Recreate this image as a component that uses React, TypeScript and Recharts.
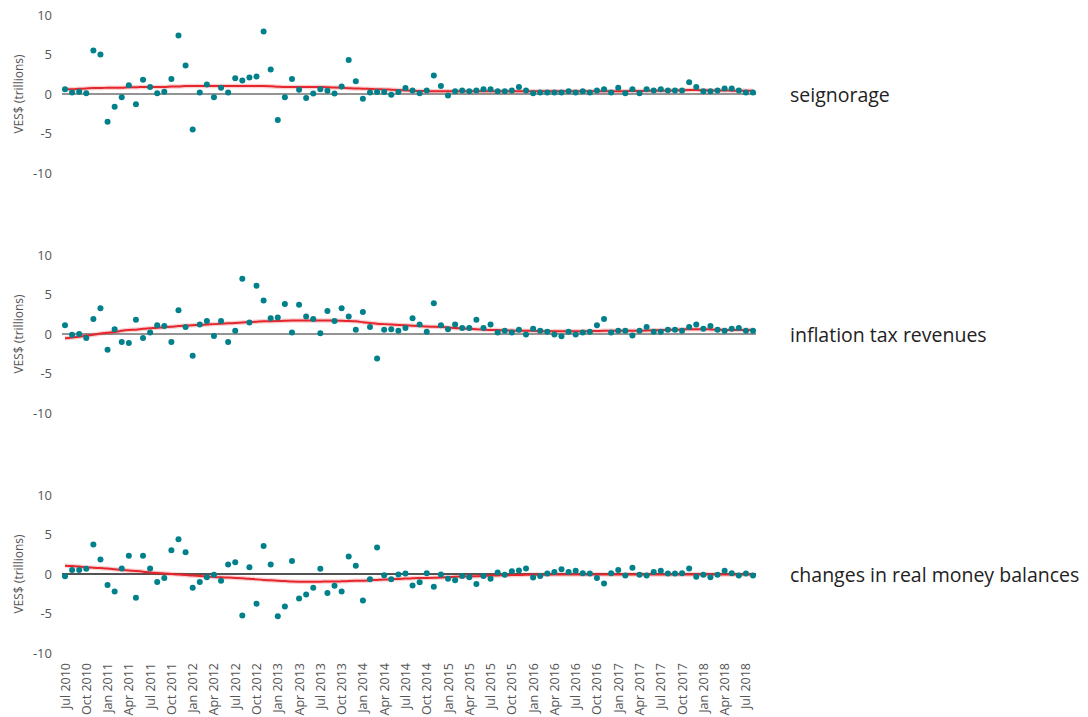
import React from "react";
import { LineChart, Line, XAxis, YAxis, ReferenceLine } from "recharts";

const months = [
  "Jul 2010","Aug 2010","Sep 2010","Oct 2010","Nov 2010","Dec 2010",
  "Jan 2011","Feb 2011","Mar 2011","Apr 2011","May 2011","Jun 2011","Jul 2011","Aug 2011","Sep 2011","Oct 2011","Nov 2011","Dec 2011",
  "Jan 2012","Feb 2012","Mar 2012","Apr 2012","May 2012","Jun 2012","Jul 2012","Aug 2012","Sep 2012","Oct 2012","Nov 2012","Dec 2012",
  "Jan 2013","Feb 2013","Mar 2013","Apr 2013","May 2013","Jun 2013","Jul 2013","Aug 2013","Sep 2013","Oct 2013","Nov 2013","Dec 2013",
  "Jan 2014","Feb 2014","Mar 2014","Apr 2014","May 2014","Jun 2014","Jul 2014","Aug 2014","Sep 2014","Oct 2014","Nov 2014","Dec 2014",
  "Jan 2015","Feb 2015","Mar 2015","Apr 2015","May 2015","Jun 2015","Jul 2015","Aug 2015","Sep 2015","Oct 2015","Nov 2015","Dec 2015",
  "Jan 2016","Feb 2016","Mar 2016","Apr 2016","May 2016","Jun 2016","Jul 2016","Aug 2016","Sep 2016","Oct 2016","Nov 2016","Dec 2016",
  "Jan 2017","Feb 2017","Mar 2017","Apr 2017","May 2017","Jun 2017","Jul 2017","Aug 2017","Sep 2017","Oct 2017","Nov 2017","Dec 2017",
  "Jan 2018","Feb 2018","Mar 2018","Apr 2018","May 2018","Jun 2018","Jul 2018","Aug 2018",
];

const tickLabels = [
  "Jul 2010","Oct 2010","Jan 2011","Apr 2011","Jul 2011","Oct 2011","Jan 2012","Apr 2012","Jul 2012","Oct 2012",
  "Jan 2013","Apr 2013","Jul 2013","Oct 2013","Jan 2014","Apr 2014","Jul 2014","Oct 2014","Jan 2015","Apr 2015",
  "Jul 2015","Oct 2015","Jan 2016","Apr 2016","Jul 2016","Oct 2016","Jan 2017","Apr 2017","Jul 2017","Oct 2017",
  "Jan 2018","Apr 2018","Jul 2018",
];

const yTicks = [-10, -5, 0, 5, 10];

const seignorage = [
  0.6, 0.2, 0.3, 0.1, 5.5, 5.0, -3.5, -1.6, -0.4, 1.1,
  -1.3, 1.8, 0.9, 0.1, 0.3, 1.9, 7.4, 3.6, -4.5, 0.2,
  1.2, -0.4, 0.8, 0.2, 2.0, 1.7, 2.1, 2.2, 7.9, 3.1,
  -3.3, -0.4, 1.9, 0.55, -0.5, 0.05, 0.6, 0.4, 0.05, 0.95,
  4.3, 1.6, -0.6, 0.2, 0.25, 0.25, -0.1, 0.25, 0.75, 0.45,
  0.1, 0.45, 2.35, 1.0, -0.2, 0.35, 0.45, 0.35, 0.45, 0.6,
  0.6, 0.35, 0.35, 0.45, 0.9, 0.45, 0.1, 0.2, 0.2, 0.2,
  0.2, 0.35, 0.2, 0.35, 0.2, 0.45, 0.6, 0.2, 0.8, 0.1,
  0.6, 0.1, 0.6, 0.45, 0.6, 0.45, 0.45, 0.45, 1.5, 0.9,
  0.35, 0.35, 0.45, 0.7, 0.7, 0.45, 0.2, 0.2,
];

const seignorageTrend = [
  0.6, 0.6, 0.65, 0.7, 0.75, 0.75, 0.8, 0.8, 0.8, 0.85,
  0.85, 0.9, 0.9, 0.9, 0.9, 0.95, 0.95, 1.0, 1.0, 1.0,
  1.0, 1.0, 1.0, 1.0, 1.0, 1.0, 1.0, 1.0, 1.0, 0.98,
  0.92, 0.88, 0.88, 0.88, 0.88, 0.88, 0.88, 0.86, 0.82, 0.78,
  0.74, 0.7, 0.68, 0.64, 0.6, 0.58, 0.54, 0.5, 0.45, 0.4,
  0.38, 0.36, 0.35, 0.35, 0.35, 0.35, 0.35, 0.35, 0.35, 0.35,
  0.35, 0.35, 0.35, 0.35, 0.35, 0.35, 0.35, 0.35, 0.35, 0.35,
  0.35, 0.35, 0.35, 0.35, 0.35, 0.35, 0.35, 0.35, 0.35, 0.35,
  0.38, 0.38, 0.4, 0.4, 0.4, 0.42, 0.45, 0.48, 0.5, 0.5,
  0.48, 0.45, 0.45, 0.45, 0.42, 0.4, 0.4, 0.4,
];

const inflationTax = [
  1.1, -0.1, 0.0, -0.5, 1.9, 3.25, -2.0, 0.6, -1.0, -1.15,
  1.8, -0.5, 0.2, 1.1, 1.0, -1.0, 3.0, 0.9, -2.75, 1.2,
  1.65, -0.25, 1.65, -1.0, 0.4, 7.0, 1.45, 6.1, 4.25, 2.0,
  2.1, 3.8, 0.2, 3.7, 2.2, 1.9, 0.1, 2.9, 1.65, 3.25,
  2.2, 0.55, 2.8, 0.9, -3.1, 0.55, 0.6, 0.4, 0.75, 2.0,
  1.2, 0.3, 3.9, 1.1, 0.6, 1.2, 0.75, 0.75, 1.8, 0.75,
  1.2, 0.2, 0.4, 0.2, 0.55, -0.05, 0.65, 0.4, 0.3, -0.05,
  -0.3, 0.3, -0.05, 0.2, 0.3, 1.1, 1.9, 0.2, 0.4, 0.4,
  -0.2, 0.4, 0.9, 0.3, 0.3, 0.55, 0.55, 0.4, 0.9, 1.2,
  0.65, 1.0, 0.55, 0.4, 0.65, 0.75, 0.4, 0.4,
];

const inflationTaxTrend = [
  -0.55, -0.45, -0.35, -0.2, -0.1, 0.05, 0.15, 0.25, 0.4, 0.5,
  0.55, 0.65, 0.72, 0.8, 0.85, 0.92, 1.0, 1.05, 1.1, 1.15,
  1.2, 1.25, 1.3, 1.35, 1.4, 1.45, 1.5, 1.55, 1.6, 1.62,
  1.65, 1.68, 1.7, 1.7, 1.7, 1.7, 1.7, 1.7, 1.7, 1.68,
  1.65, 1.6, 1.5, 1.4, 1.3, 1.25, 1.2, 1.15, 1.1, 1.05,
  1.0, 0.95, 0.92, 0.88, 0.83, 0.75, 0.7, 0.65, 0.6, 0.55,
  0.5, 0.5, 0.45, 0.45, 0.4, 0.4, 0.4, 0.35, 0.35, 0.35,
  0.35, 0.35, 0.35, 0.35, 0.35, 0.38, 0.4, 0.4, 0.4, 0.4,
  0.4, 0.42, 0.45, 0.48, 0.5, 0.52, 0.55, 0.58, 0.6, 0.6,
  0.6, 0.58, 0.55, 0.52, 0.5, 0.5, 0.5, 0.5,
];

const realMoney = [
  -0.3, 0.5, 0.5, 0.65, 3.75, 1.85, -1.4, -2.2, 0.7, 2.3,
  -3.0, 2.3, 0.7, -1.0, -0.5, 3.0, 4.4, 2.75, -1.75, -1.0,
  -0.4, -0.1, -0.85, 1.2, 1.5, -5.25, 0.85, -3.75, 3.55, 1.2,
  -5.35, -4.1, 1.65, -3.1, -2.6, -1.75, 0.65, -2.4, -1.5, -2.2,
  2.2, 1.05, -3.35, -0.65, 3.35, -0.15, -0.65, -0.05, 0.05, -1.45,
  -1.05, 0.1, -1.6, -0.05, -0.6, -0.8, -0.25, -0.4, -1.25, -0.25,
  -0.6, 0.2, -0.1, 0.35, 0.45, 0.7, -0.45, -0.25, 0.05, 0.25,
  0.6, 0.25, 0.4, 0.1, 0.05, -0.5, -1.2, 0.1, 0.5, -0.2,
  0.8, -0.1, -0.2, 0.25, 0.4, 0.05, 0.05, 0.1, 0.7, -0.35,
  -0.1, -0.4, -0.1, 0.4, 0.1, -0.2, 0.05, -0.2,
];

const realMoneyTrend = [
  1.05, 1.0, 0.95, 0.85, 0.8, 0.75, 0.7, 0.6, 0.5, 0.45,
  0.38, 0.3, 0.2, 0.12, 0.05, 0.0, -0.05, -0.12, -0.2, -0.25,
  -0.32, -0.38, -0.42, -0.45, -0.5, -0.55, -0.6, -0.68, -0.75, -0.8,
  -0.85, -0.9, -0.95, -0.97, -0.97, -0.97, -0.97, -0.95, -0.95, -0.93,
  -0.9, -0.87, -0.85, -0.8, -0.75, -0.7, -0.67, -0.62, -0.58, -0.55,
  -0.52, -0.5, -0.47, -0.44, -0.4, -0.36, -0.33, -0.3, -0.27, -0.24,
  -0.21, -0.18, -0.16, -0.14, -0.12, -0.1, -0.1, -0.1, -0.08, -0.06,
  -0.05, -0.05, -0.05, -0.05, -0.05, -0.05, -0.05, -0.05, -0.05, -0.05,
  -0.05, -0.05, -0.05, -0.05, -0.05, -0.05, -0.05, -0.05, -0.05, -0.05,
  -0.05, -0.05, -0.05, -0.05, -0.05, -0.05, -0.05, -0.05,
];

const panels = [
  { label: "seignorage", values: seignorage, trend: seignorageTrend, zero: "#707070", showX: false },
  { label: "inflation tax revenues", values: inflationTax, trend: inflationTaxTrend, zero: "#707070", showX: false },
  { label: "changes in real money balances", values: realMoney, trend: realMoneyTrend, zero: "#1a1a1a", showX: true },
];

const FONT = "'Open Sans', 'DejaVu Sans', sans-serif";
const TEAL = "#00808a";
const RED = "#e5262d";

const XTick = (props: any) => {
  const { x, y, payload } = props;
  return (
    <g transform={`translate(${x},${y})`}>
      <text
        transform="rotate(-90)"
        textAnchor="end"
        dy={4.5}
        x={0}
        y={0}
        fill="#555"
        fontSize={12.5}
        fontFamily={FONT}
      >
        {payload.value}
      </text>
    </g>
  );
};

function Panel({ p, top }: { p: any; top: number }) {
  const data = months.map((m, i) => ({ month: m, value: p.values[i], trend: p.trend[i] }));
  const height = p.showX ? 237 : 182;
  return (
    <div style={{ position: "absolute", left: 0, top, width: 760, height }}>
      <LineChart
        width={760}
        height={height}
        data={data}
        margin={{ top: 15, right: 4, bottom: p.showX ? 0 : 9, left: 0 }}
      >
        <XAxis
          dataKey="month"
          hide={!p.showX}
          ticks={tickLabels}
          interval={0}
          axisLine={false}
          tickLine={false}
          tick={<XTick />}
          tickSize={0}
          tickMargin={10}
          height={64}
          padding={{ left: 3, right: 3 }}
        />
        <YAxis
          domain={[-10, 10]}
          ticks={yTicks}
          interval={0}
          width={62}
          axisLine={false}
          tickLine={false}
          tickMargin={4}
          tick={{ fill: "#555", fontSize: 13, fontFamily: FONT }}
          label={{
            value: "VES$ (trillions)",
            angle: -90,
            position: "insideLeft",
            offset: 19,
            style: { textAnchor: "middle", fill: "#555", fontSize: 12, fontFamily: FONT },
          }}
        />
        <ReferenceLine y={0} stroke={p.zero} strokeWidth={1.5} />
        <Line
          dataKey="trend"
          stroke={RED}
          strokeOpacity={0.22}
          strokeWidth={4.5}
          dot={false}
          type="monotone"
          isAnimationActive={false}
        />
        <Line
          dataKey="trend"
          stroke={RED}
          strokeWidth={2}
          dot={false}
          type="monotone"
          isAnimationActive={false}
        />
        <Line
          dataKey="value"
          stroke="none"
          strokeWidth={0}
          dot={{ r: 3, fill: TEAL, stroke: "none" }}
          activeDot={false}
          isAnimationActive={false}
        />
      </LineChart>
      <div
        style={{
          position: "absolute",
          left: 790,
          top: 81,
          whiteSpace: "nowrap",
          fontFamily: FONT,
          fontSize: 19.5,
          color: "#222",
          lineHeight: "28px",
        }}
      >
        {p.label}
      </div>
    </div>
  );
}

export default function App() {
  return (
    <div style={{ position: "absolute", left: 0, top: 0, width: 1088, height: 717, background: "#fff", overflow: "hidden" }}>
      {panels.map((p, i) => (
        <Panel key={p.label} p={p} top={i * 240} />
      ))}
    </div>
  );
}
